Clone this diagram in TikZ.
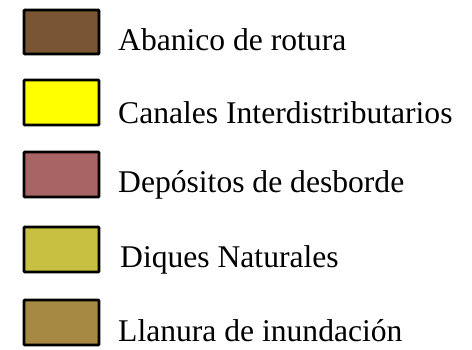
\documentclass[tikz,border=0pt]{standalone}
\usepackage{fontspec}
\setmainfont{Liberation Serif}
\definecolor{cabanico}{RGB}{122,85,51}
\definecolor{ccanales}{RGB}{255,255,0}
\definecolor{cdesborde}{RGB}{168,100,100}
\definecolor{cdiques}{RGB}{200,192,64}
\definecolor{cllanura}{RGB}{166,138,68}
\begin{document}
\begin{tikzpicture}[x=1pt,y=-1pt,
  swatch/.style={draw=black,line width=2.6pt,rounded corners=0.8pt},
  lbl/.style={anchor=base west,inner sep=0pt,font=\fontsize{31.6}{36}\selectfont}]
\useasboundingbox (0,0) rectangle (472,349);
\filldraw[swatch,fill=cabanico] (24,10) rectangle (99,54);
\filldraw[swatch,fill=ccanales] (24,80) rectangle (99,125);
\filldraw[swatch,fill=cdesborde] (24,152) rectangle (99,197);
\filldraw[swatch,fill=cdiques] (24,227) rectangle (99,272);
\filldraw[swatch,fill=cllanura] (24,300) rectangle (99,345);
\node[lbl] (t1) at (118,50.5) {Abanico de rotura};
\node[lbl] (t2) at (118,123) {Canales Interdistributarios};
\node[lbl] (t3) at (118,192) {Depósitos de desborde};
\node[lbl] (t4) at (120,267) {Diques Naturales};
\node[lbl] (t5) at (118,341.5) {Llanura de inundación};
\end{tikzpicture}
\end{document}
